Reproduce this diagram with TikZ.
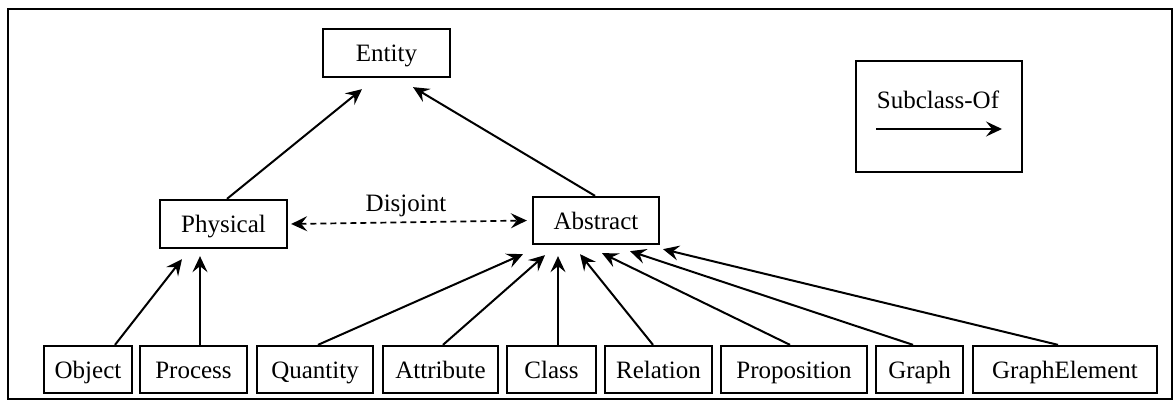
\documentclass[tikz,border=0pt]{standalone}
\usepackage{fontspec}
\setmainfont{Liberation Serif}
\usetikzlibrary{arrows.meta}
\begin{document}
\begin{tikzpicture}[x=1pt,y=-1pt,
  lbl/.style={font=\fontsize{25}{30}\selectfont, inner sep=0pt},
  box/.style={draw, line width=2.3pt, minimum height=47pt, inner sep=0pt, text height=20pt, text depth=2pt, font=\fontsize{25}{30}\selectfont},
  tipA/.tip={Stealth[length=16pt,width=15pt,inset=6pt]},
  sub/.style={line width=2pt, -tipA},
  disj/.style={line width=1.7pt, dash pattern=on 6pt off 4pt, tipA-tipA}]
\useasboundingbox (0,0) rectangle (1174,403);
\draw[line width=2.2pt] (8,9) rectangle (1172,399);

% top levels
\node[box, minimum width=127pt, minimum height=48pt] (entity) at (386.5,53) {Entity};
\node[box, minimum width=127pt, minimum height=48pt] (physical) at (223.5,224) {Physical};
\node[box, minimum width=126pt] (abstract) at (596,220.5) {Abstract};

% bottom row
\node[box, minimum width=88pt]  (object)  at (88,369.5)   {Object};
\node[box, minimum width=107pt] (process) at (193.5,369.5) {Process};
\node[box, minimum width=116pt] (quantity) at (315,369.5) {Quantity};
\node[box, minimum width=115pt] (attribute) at (440.5,369.5) {Attribute};
\node[box, minimum width=89pt]  (class)   at (551.5,369.5) {Class};
\node[box, minimum width=107pt] (relation) at (658.5,369.5) {Relation};
\node[box, minimum width=146pt] (proposition) at (794,369.5) {Proposition};
\node[box, minimum width=87pt]  (graph)   at (919.5,369.5) {Graph};
\node[box, minimum width=184pt] (graphel) at (1065,369.5) {GraphElement};

% legend
\node[draw, line width=2.3pt, minimum width=166pt, minimum height=111pt, inner sep=0pt] (legend) at (939,116.5) {};
\node[lbl] (legtxt) at (938,100) {Subclass-Of};
\coordinate (legA) at (876,129);
\coordinate (legB) at (1002,129);
\draw[sub] (legA) -- (legB);

% subclass arrows to Entity
\draw[sub] ([xshift=3.5pt]physical.north) -- ([xshift=-24.5pt,yshift=-11pt]entity.south);
\draw[sub] ([xshift=-1pt]abstract.north) -- ([xshift=26.5pt,yshift=-9pt]entity.south);

% to Physical
\draw[sub] ([xshift=27pt]object.north) -- ([xshift=-41.5pt,yshift=-10pt]physical.south);
\draw[sub] ([xshift=6.5pt]process.north) -- ([xshift=-23.5pt,yshift=-7pt]physical.south);

% to Abstract
\draw[sub] ([xshift=3pt]quantity.north) -- ([xshift=-73pt,yshift=-9pt]abstract.south);
\draw[sub] ([xshift=2.5pt]attribute.north) -- ([xshift=-51pt,yshift=-10pt]abstract.south);
\draw[sub] ([xshift=6.5pt]class.north) -- ([xshift=-38pt,yshift=-11pt]abstract.south);
\draw[sub] ([xshift=-5.5pt]relation.north) -- ([xshift=-16pt,yshift=-9pt]abstract.south);
\draw[sub] ([xshift=-4pt]proposition.north) -- ([xshift=6pt,yshift=-8pt]abstract.south);
\draw[sub] ([xshift=-6.5pt]graph.north) -- ([xshift=34pt,yshift=-6pt]abstract.south);
\draw[sub] ([xshift=-7pt]graphel.north) -- ([xshift=67pt,yshift=-4pt]abstract.south);

% disjoint
\draw[disj] ([xshift=3pt]physical.east) -- ([xshift=-5pt]abstract.west);
\node[lbl] (disjlbl) at (406,206) {Disjoint};
\end{tikzpicture}
\end{document}
